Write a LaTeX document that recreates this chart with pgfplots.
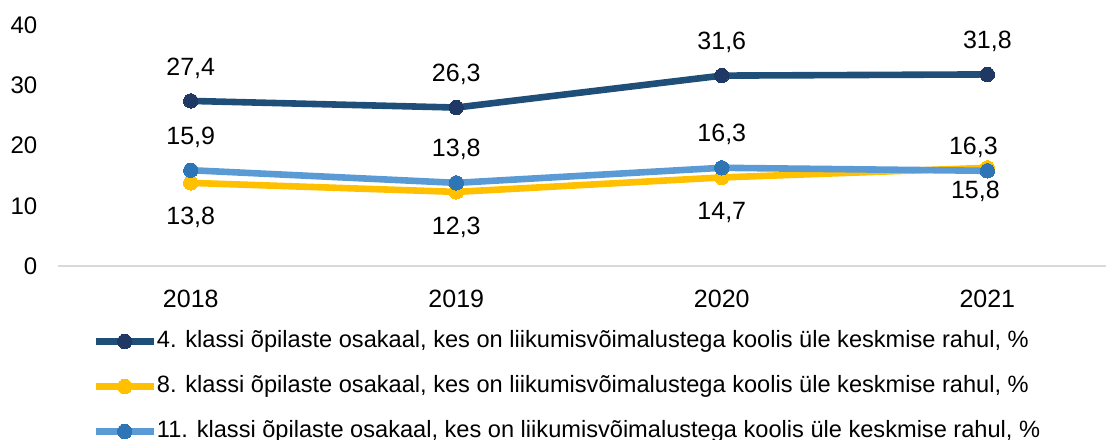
\documentclass[border=0pt]{standalone}
\usepackage{pgfplots}
\pgfplotsset{compat=1.18}
\usepackage{pgfplotstable}
\usepackage{fontspec}
\setmainfont{Liberation Sans}
\usetikzlibrary{calc}
\definecolor{cdark}{HTML}{1F4E79}
\definecolor{cdarkm}{HTML}{203864}
\definecolor{cyel}{HTML}{FFC000}
\definecolor{clight}{HTML}{5B9BD5}
\definecolor{clightm}{HTML}{2E75B6}

\pgfplotstableread{
x y dx dy
0 27.4 0 16.5
1 26.3 0 16.5
2 31.6 0 16.5
3 31.8 0 16.5
}\darkdata
\pgfplotstableread{
x y dx dy
0 13.8 0 -17.5
1 12.3 0 -17.5
2 14.7 0 -17.5
3 16.3 -7 10
}\yeldata
\pgfplotstableread{
x y dx dy
0 15.9 0 16.5
1 13.8 0 16.5
2 16.3 0 16.5
3 15.8 -6 -10.5
}\lightdata

\begin{document}
\begin{tikzpicture}
\begin{axis}[
  name=ax,
  scale only axis,
  width=524.4pt, height=120.5pt,
  xmin=-0.5, xmax=3.45, ymin=0, ymax=40,
  clip=false,
  axis x line=bottom, axis y line=left,
  x axis line style={draw=black!15, line width=1pt, -},
  y axis line style={draw=none},
  tick style={draw=none},
  xtick={0,1,2,3}, xticklabels={2018,2019,2020,2021},
  ytick={0,10,20,30,40},
  /pgf/number format/assume math mode=true,
  yticklabel style={anchor=east, inner sep=0pt, xshift=-8pt, font=\fontsize{12}{14}\selectfont},
  xticklabel style={anchor=north, inner sep=0pt, yshift=-9.5pt, font=\fontsize{12.5}{14}\selectfont},
  nodes near coords={\pgfmathprintnumber[fixed,fixed zerofill,precision=1,use comma]{\pgfplotspointmeta}},
  visualization depends on={\thisrow{dx} \as \dx},
  visualization depends on={\thisrow{dy} \as \dy},
  every node near coord/.append style={anchor=center, text=black, inner sep=0pt, xshift={\dx pt}, yshift={\dy pt}, font=\fontsize{12.5}{14}\selectfont},
  legend style={draw=none, fill=none, at={(0,0)}, anchor=north west, xshift=17pt, yshift=-32pt,
    row sep=11.5pt, inner sep=0pt, column sep=0pt,
    font=\fontsize{11.8}{14}\selectfont,
    nodes={inner sep=0pt, text height=8.5pt, text depth=2.5pt}},
  legend cell align=left,
  legend image code/.code={\draw[mark repeat=2,mark phase=2,#1] plot coordinates {(0pt,0pt) (14.5pt,0pt) (29pt,0pt)};},
]
\addplot[cdark, line width=3.3pt, mark=*, mark size=3.6pt, mark options={fill=cdarkm, draw=cdarkm, line width=0pt}] table[x=x,y=y]{\darkdata};
\addlegendentry{4. klassi õpilaste osakaal, kes on liikumisvõimalustega koolis üle keskmise rahul, \%}
\addplot[cyel, line width=3.3pt, mark=*, mark size=3.6pt, mark options={fill=cyel, draw=cyel, line width=0pt}] table[x=x,y=y]{\yeldata};
\addlegendentry{8. klassi õpilaste osakaal, kes on liikumisvõimalustega koolis üle keskmise rahul, \%}
\addplot[clight, line width=3.3pt, mark=*, mark size=3.6pt, mark options={fill=clightm, draw=clightm, line width=0pt}] table[x=x,y=y]{\lightdata};
\addlegendentry{11. klassi õpilaste osakaal, kes on liikumisvõimalustega koolis üle keskmise rahul, \%}
\end{axis}
\pgfresetboundingbox
\path[use as bounding box] ($(ax.south west)+(-29pt,-86.5pt)$) rectangle ($(ax.south west)+(524pt,133pt)$);
\end{tikzpicture}
\end{document}
